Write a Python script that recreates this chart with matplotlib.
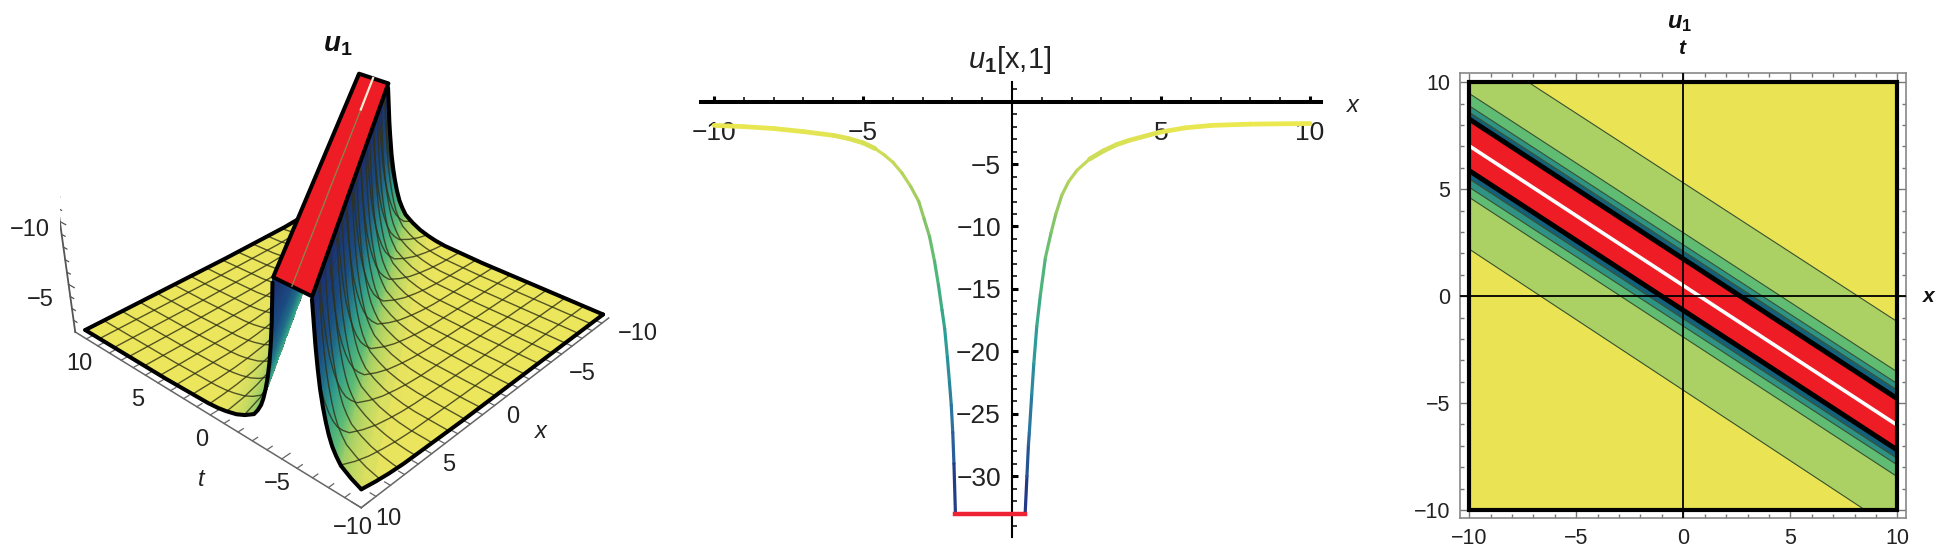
import numpy as np
import matplotlib
matplotlib.use("Agg")
import matplotlib.pyplot as plt
from matplotlib.collections import LineCollection
from matplotlib.colors import LinearSegmentedColormap, Normalize
from matplotlib.patches import Rectangle
from mpl_toolkits.mplot3d.art3d import Poly3DCollection

plt.rcParams['font.family'] = ['Liberation Sans', 'DejaVu Sans']
plt.rcParams['mathtext.fontset'] = 'custom'
plt.rcParams['mathtext.rm'] = 'Liberation Sans'
plt.rcParams['mathtext.it'] = 'Liberation Sans:italic'
plt.rcParams['mathtext.bf'] = 'Liberation Sans:bold'
plt.rcParams['mathtext.bfit'] = 'Liberation Sans:italic:bold'

W, H = 1944, 560

# middle panel: curve u1[x,1]
curve_left_x = [-10, -9, -8, -7, -6, -5.5, -5, -4.6, -4.3, -4, -3.7, -3.4, -3.13, -2.95, -2.77, -2.6, -2.47,
                -2.35, -2.26, -2.17, -2.1, -2.04, -1.99, -1.95, -1.9]
curve_left_u = [-1.9, -2.0, -2.15, -2.4, -2.7, -2.95, -3.3, -3.75, -4.25, -4.85, -5.7, -6.8, -8, -9.4, -10.8, -12.8, -14.7,
                -16.7, -18.2, -20.5, -22.5, -24.3, -26.5, -29, -33]
curve_right_x = [0.44, 0.5, 0.55, 0.58, 0.66, 0.73, 0.83, 0.95, 1.12, 1.31, 1.47, 1.67, 1.9, 2.18, 2.6, 3.06,
                 3.5, 3.93, 4.95, 5.8, 6.7, 8, 10]
curve_right_u = [-33, -30, -27.5, -26.5, -23.5, -21, -18, -15.5, -12.5, -10.5, -9, -7.5, -6.4, -5.5, -4.6, -3.95,
                 -3.45, -3.1, -2.45, -2.1, -1.9, -1.8, -1.75]
cut_u = -33

# left panel: cross section of the ridge against distance s from its centre line
ridge_s = [1.16, 1.25, 1.33, 1.44, 1.56, 1.72, 1.89, 2.06, 2.26, 2.5, 2.78, 3.4, 4.0, 4.7, 5.3, 6.0, 9, 17]
ridge_v = [-14, -12.3, -10.8, -9.3, -8, -6.8, -5.8, -5, -4.3, -3.75, -3.25, -2.75, -2.4, -2.15, -2.0, -1.9, -1.78, -1.75]
ridge_slope = 0.65
ridge_t0 = 0.5
top_u = -14

# right panel: contour boundaries, t at x=-10 and at x=10, top to bottom
band_t_left = [11.8, 9.48, 8.9, 8.6, 8.28, 5.87, 5.48, 5.09, 4.62, 2.2]
band_t_right = [-1.2, -3.55, -4.1, -4.4, -4.8, -7.2, -7.6, -7.9, -8.45, -11.0]
band_colors = ['#abd164', '#60bb73', '#2e9285', '#14607a', '#ee1c25', '#14607a', '#2e9285', '#60bb73', '#abd164']
white_t = [7.03, -6.04]

ticks_big = [-10, -5, 0, 5, 10]


def rect(l, t, r, b):
    return [l / W, 1 - b / H, (r - l) / W, (b - t) / H]


def ridge_u(s):
    return np.interp(np.abs(s), ridge_s, ridge_v)


fig = plt.figure(figsize=(W / 100, H / 100), dpi=100)

# ---- left: 3D ridge
ax = fig.add_axes([60.4 / W, 16.9 / H, 557.5 / W, 557.5 / H], projection='3d', computed_zorder=False)
ax.set_xlim(-10, 10)
ax.set_ylim(10, -10)
ax.set_zlim(0, -14.3)
ax.set_axis_off()
ax.view_init(elev=30.20, azim=42.19, roll=0.05)
ax.set_proj_type('persp', focal_length=0.394)
ax.set_box_aspect((1, 0.992, 0.544))

v_stops = [(0.0, '#ece65c'), (0.03, '#e6e35f'), (0.10, '#aed364'), (0.18, '#5cbb75'), (0.35, '#2f9a8a'),
           (0.51, '#206a88'), (0.67, '#1a4a80'), (1.0, '#1b2e6e')]
cmap3d = LinearSegmentedColormap.from_list('r3', v_stops)
norm3d = Normalize(vmin=-14, vmax=-1.75)


def top_color(U):
    return cmap3d(1 - norm3d(U))


def draw_patch(s_vals, z):
    xs = np.linspace(-10, 10, 90)
    S_, X = np.meshgrid(s_vals, xs)
    T = np.clip(S_ + ridge_t0 - ridge_slope * X, -10, 10)
    U = ridge_u(T + ridge_slope * X - ridge_t0)
    Um = 0.25 * (U[:-1, :-1] + U[1:, :-1] + U[:-1, 1:] + U[1:, 1:])
    ax.plot_surface(X, T, U, facecolors=top_color(Um), rstride=1, cstride=1, shade=False,
                    linewidth=0, antialiased=False, zorder=z)


def mesh(lo, hi, z):
    vals = np.linspace(-10, 10, 17)[1:-1]
    grid = np.linspace(-10, 10, 500)
    for v in vals:
        s = grid * 1.0 + ridge_slope * v - ridge_t0
        m = (s > lo) & (s < hi)
        ax.plot(np.full(m.sum(), v), grid[m], ridge_u(s[m]), color='#2f3015', lw=1.0, alpha=0.8, zorder=z)
        s = v + ridge_slope * grid - ridge_t0
        m = (s > lo) & (s < hi)
        ax.plot(grid[m], np.full(m.sum(), v), ridge_u(s[m]), color='#2f3015', lw=1.0, alpha=0.8, zorder=z)


def edge_x(xv, lo, hi, z, lw=2.9):
    grid = np.linspace(-10, 10, 800)
    s = grid + ridge_slope * xv - ridge_t0
    m = (s >= lo) & (s <= hi)
    ax.plot(np.full(m.sum(), xv), grid[m], ridge_u(s[m]), color='k', lw=lw, zorder=z, solid_capstyle='round')


def edge_t(tv, lo, hi, z, lw=2.9):
    grid = np.linspace(-10, 10, 800)
    s = tv + ridge_slope * grid - ridge_t0
    m = (s >= lo) & (s <= hi)
    ax.plot(grid[m], np.full(m.sum(), tv), ridge_u(s[m]), color='k', lw=lw, zorder=z, solid_capstyle='round')


# far side, seen behind the ridge
draw_patch(np.concatenate([np.linspace(2.1, 6, 30), np.linspace(6, 17, 20)[1:]]), 1)
mesh(2.1, 17, 2)
edge_t(10, 1.16, 17, 3)
edge_x(-10, 1.16, 3.1, 3)
draw_patch(np.linspace(1.16, 2.1, 30), 4)
edge_x(10, 1.16, 17, 5)

# near side
draw_patch(np.concatenate([np.linspace(-17, -4, 25), np.linspace(-4, -1.16, 60)[1:]]), 9)
mesh(-17, -1.16, 10)
edge_x(10, -17, -1.16, 11)
edge_x(-10, -17, -1.16, 11)
edge_t(-10, -17, -1.16, 11)

# flat red top
top_x = [10, 10, -10, -10]
top_s = [-1.16, 1.16, 1.16, -1.16]
top_t = [s + ridge_t0 - ridge_slope * x for s, x in zip(top_s, top_x)]
ax.add_collection3d(Poly3DCollection([list(zip(top_x, top_t, [top_u] * 4))], facecolor='#ee1c25',
                                     edgecolor='k', linewidth=2.9, zorder=12))
ax.plot([10, -6], [ridge_t0 - ridge_slope * 10, ridge_t0 + ridge_slope * 6], [top_u, top_u], color='#8f7f4f', lw=1, zorder=13)
ax.plot([-6, -10], [ridge_t0 + ridge_slope * 6, ridge_t0 + ridge_slope * 10], [top_u, top_u], color='#f6efd8', lw=1.6, zorder=13)

# box axes
z0 = -1.0
ax.plot([10, 10], [-10, 11], [z0, z0], color='#666666', lw=1.1, zorder=0)
ax.plot([10, -10.7], [-10, -10], [z0, z0], color='#666666', lw=1.1, zorder=0)
ax.plot([10, 10], [11, 11], [z0, -14.3], color='#555555', lw=1.3, zorder=0)
for v in range(-10, 11):
    d = 0.55 if v % 5 == 0 else 0.35
    ax.plot([10, 10 - d], [v, v], [z0, z0], color='#666666', lw=0.9, zorder=0)
    ax.plot([v, v], [-10, -10 + d], [z0, z0], color='#666666', lw=0.9, zorder=0)
for v in range(-14, -1):
    d = 0.5 if v % 5 == 0 else 0.3
    ax.plot([10, 10], [11, 11 - d], [v, v], color='#555555', lw=0.9, zorder=0)

label_kw = dict(ha='center', va='center', fontsize=17, color='#222222')
labels_3d = ['\u221210', '\u22125', '10', '5', '0', '\u22125', '\u221210', '10', '5', '0', '\u22125', '\u221210']
labels_px = [(30, 230), (40, 300), (79, 364), (138, 400), (202, 440), (277, 484), (353, 528), (388, 519), (449, 465),
             (513, 417), (582, 374), (638, 334)]
for lab, (px, py) in zip(labels_3d, labels_px):
    fig.text(px / W, 1 - py / H, lab, **label_kw)
fig.text(201 / W, 1 - 479 / H, 't', style='italic', ha='center', va='center', fontsize=17, color='#222222')
fig.text(541 / W, 1 - 432 / H, 'x', style='italic', ha='center', va='center', fontsize=17, color='#222222')
fig.text(338 / W, 1 - 45 / H, r'$\mathbfit{u}_{\mathbf{1}}$', ha='center', va='center', fontsize=20, color='#111111')

# ---- middle: cross section
ax2 = fig.add_axes(rect(701, 81.7, 1321, 537.3))
ax2.set_xlim(-10.44, 10.37)
ax2.set_ylim(-34.9, 1.6)
for sp in ['top', 'right']:
    ax2.spines[sp].set_visible(False)
ax2.spines['bottom'].set_position(('data', 0))
ax2.spines['left'].set_position(('data', 0))
ax2.spines['bottom'].set_linewidth(2.9)
ax2.spines['left'].set_linewidth(1.5)
ax2.set_xticks([-10, -5, 5, 10])
ax2.set_xticklabels(['\u221210', '\u22125', '5', '10'], fontsize=19, color='#222222')
ax2.set_yticks([-5, -10, -15, -20, -25, -30])
ax2.set_yticklabels(['\u22125', '\u221210', '\u221215', '\u221220', '\u221225', '\u221230'], fontsize=19, color='#222222')
ax2.set_xticks(range(-10, 11), minor=True)
ax2.set_yticks(range(-34, 2), minor=True)
ax2.tick_params(which='major', direction='in', length=4.5, width=2.2)
ax2.tick_params(which='minor', direction='in', length=3.5, width=1.1)
ax2.tick_params(axis='x', which='major', pad=14)
ax2.tick_params(axis='y', which='major', pad=8)

line_stops = [(0.0, '#ece850'), (0.2, '#9ccb62'), (0.39, '#4db57a'), (0.58, '#2a9c9a'), (0.78, '#2b6fa0'), (1.0, '#1e2a80')]
cmap2 = LinearSegmentedColormap.from_list('r2', line_stops)
norm2 = Normalize(vmin=-33, vmax=-1.75)
for cx, cu in [(curve_left_x, curve_left_u), (curve_right_x, curve_right_u)]:
    p = np.column_stack([cx, cu])
    segs = np.stack([p[:-1], p[1:]], axis=1)
    mids = 0.5 * (np.array(cu[:-1]) + np.array(cu[1:]))
    steep = np.abs(np.diff(cu)) / np.abs(np.diff(cx)) > 1.5
    lc = LineCollection(segs, colors=cmap2(1 - norm2(mids)), linewidths=np.where(steep, 2.3, 3.4),
                        capstyle='round', zorder=3)
    ax2.add_collection(lc)
ax2.plot([curve_left_x[-1], curve_right_x[0]], [cut_u, cut_u], color='#ee2233', lw=3.2, zorder=3)
fig.text(1010 / W, 1 - 60 / H, r'$\mathit{u}_{\mathbf{1}}$[x,1]', ha='center', va='center', fontsize=21, color='#222222')
fig.text(1353 / W, 1 - 105 / H, 'x', style='italic', ha='center', va='center', fontsize=17, color='#222222')

# ---- right: contours
ax3 = fig.add_axes(rect(1460, 72.7, 1906, 518.3))
ax3.set_xlim(-10.43, 10.4)
ax3.set_ylim(-10.39, 10.45)
clip = Rectangle((-10, -10), 20, 20, transform=ax3.transData)
ax3.add_patch(Rectangle((-10, -10), 20, 20, facecolor='#eae354', edgecolor='none', zorder=0))
xe = [-10, 10]
for i, col in enumerate(band_colors):
    f = ax3.fill_between(xe, [band_t_left[i], band_t_right[i]], [band_t_left[i + 1], band_t_right[i + 1]],
                         color=col, lw=0, zorder=1)
    f.set_clip_path(clip)
for i in range(len(band_t_left)):
    thick = i in (4, 5)
    ln, = ax3.plot(xe, [band_t_left[i], band_t_right[i]], color='k' if thick else '#35502f',
                   lw=3.6 if thick else 0.8, zorder=2)
    ln.set_clip_path(clip)
ax3.plot(xe, white_t, color='white', lw=2.6, zorder=3)
ax3.add_patch(Rectangle((-10, -10), 20, 20, facecolor='none', edgecolor='k', lw=3.0, zorder=4))
ax3.axhline(0, color='k', lw=1.3, zorder=5)
ax3.axvline(0, color='k', lw=1.3, zorder=5)
ax3.set_xticks(ticks_big)
ax3.set_yticks(ticks_big)
ax3.set_xticklabels(['\u221210', '\u22125', '0', '5', '10'], fontsize=15.5, color='#222222')
ax3.set_yticklabels(['\u221210', '\u22125', '0', '5', '10'], fontsize=15.5, color='#222222')
ax3.set_xticks(range(-10, 11), minor=True)
ax3.set_yticks(range(-10, 11), minor=True)
ax3.tick_params(which='major', direction='in', top=True, right=True, length=6, width=1, color='#777777', pad=7)
ax3.tick_params(which='minor', direction='in', top=True, right=True, length=3, width=1, color='#777777')
for sp in ax3.spines.values():
    sp.set_color('#888888')
    sp.set_linewidth(1.2)
fig.text(1680 / W, 1 - 23 / H, r'$\mathbfit{u}_{\mathbf{1}}$', ha='center', va='center', fontsize=17, color='#111111')
fig.text(1682 / W, 1 - 48 / H, 't', style='italic', fontweight='bold', ha='center', va='center', fontsize=15, color='#111111')
fig.text(1929 / W, 1 - 296 / H, 'x', style='italic', fontweight='bold', ha='center', va='center', fontsize=15, color='#111111')

fig.savefig('out.png', dpi=100)
